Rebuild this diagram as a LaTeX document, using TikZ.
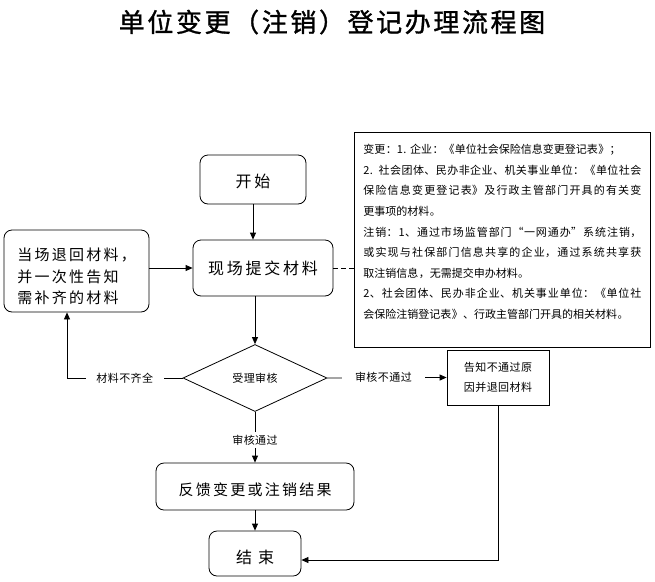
\documentclass[tikz,border=0pt]{standalone}
\usepackage{fontspec}
\setmainfont{Noto Sans CJK SC}
\XeTeXlinebreaklocale "zh"
\XeTeXlinebreakskip=0pt plus 1pt
\usetikzlibrary{arrows.meta,shapes.geometric}

\begin{document}
\begin{tikzpicture}[x=1pt, y=-1pt, >={Triangle[length=7pt,width=6pt]},
    every path/.style={line width=0.8pt},
    rbox/.style={draw, rounded corners=8pt, inner sep=0pt, align=center},
    bigfont/.style={font={\addfontfeature{LetterSpace=17}\fontsize{16}{20}\selectfont}},
    midfont/.style={font={\addfontfeature{LetterSpace=15}\fontsize{15}{21.5}\selectfont}},
    smallfont/.style={font={\addfontfeature{LetterSpace=4}\fontsize{11}{20}\selectfont}},
    lbl/.style={fill=white, inner sep=0pt, minimum height=14pt, smallfont},
    arr/.style={->}]
\useasboundingbox (0,0) rectangle (655,581);

% title
\node[font={\addfontfeature{LetterSpace=10,FakeBold=1.2}\fontsize{26}{30}\selectfont}] (title) at (332,22) {单位变更（注销）登记办理流程图};

% main flow
\node[rbox, bigfont, minimum width=106pt, minimum height=49pt, text height=17pt] (start) at (253,179.5) {开始};
\node[rbox, bigfont, minimum width=140pt, minimum height=56pt] (submit) at (263,268) {现场提交材料};
\node[rbox, midfont, minimum width=145pt, minimum height=82pt, align=left] (back) at (76.5,271)
    {\rule{0pt}{24pt}当场退回材料，\\并一次性告知\\需补齐的材料};
\node[draw, diamond, aspect=2.15, minimum width=144pt, minimum height=67pt, inner sep=0pt, smallfont] (judge) at (255,378) {受理审核};
\node[draw, minimum width=102pt, minimum height=55pt, inner sep=0pt, align=center, smallfont] (reject) at (498,377.5)
    {告知不通过原\\因并退回材料};
\node[rbox, midfont, minimum width=198pt, minimum height=47pt, text height=18.5pt] (feedback) at (255,486.5) {反馈变更或注销结果};
\node[rbox, bigfont, minimum width=92pt, minimum height=45pt, text height=22pt] (finish) at (255,553.5) {结\hspace{6pt}束};

% note on the right
\node[draw, minimum width=296pt, minimum height=215pt, inner sep=0pt] (note) at (502,239.5) {};
\node[anchor=north west, inner sep=0pt, text width=278pt, align=justify,
      font={\addfontfeature{LetterSpace=3.5}\fontsize{11}{20.6}\selectfont}] (notetxt) at (363,144)
    {变更：1. 企业：《单位社会保险信息变更登记表》；\\
     2. 社会团体、民办非企业、机关事业单位：《单位社会\linebreak
     保险信息变更登记表》及行政主管部门开具的有关变\linebreak
     更事项的材料。\\
     注销：1、通过市场监管部门“一网通办”系统注销，\linebreak
     或实现与社保部门信息共享的企业，通过系统共享获\linebreak
     取注销信息，无需提交申办材料。\\
     2、社会团体、民办非企业、机关事业单位：《单位社\linebreak
     会保险注销登记表》、行政主管部门开具的相关材料。};

% connectors
\draw[arr] (start.south) -- (start.south |- submit.north);
\draw[arr] (back.east |- submit.west) -- (submit.west);
\draw[dash pattern=on 5pt off 3pt] (submit.east) -- (submit.east -| note.west);
\draw[arr] (judge.north |- submit.south) -- (judge.north);
\draw[arr] (judge.west) -| node[lbl, pos=0.25, minimum width=78pt] {材料不齐全} ([xshift=-9.5pt]back.south);
\draw[arr] (judge.east) -- node[lbl, pos=0.47, minimum width=83pt] {审核不通过} (reject.west);
\draw[arr] (judge.south) -- node[lbl, pos=0.55, minimum width=60pt, minimum height=16pt] {审核通过} (feedback.north);
\draw[arr] (feedback.south) -- (finish.north);
\draw[arr] (reject.south) |- ([yshift=-6.5pt]finish.east);
\end{tikzpicture}
\end{document}
